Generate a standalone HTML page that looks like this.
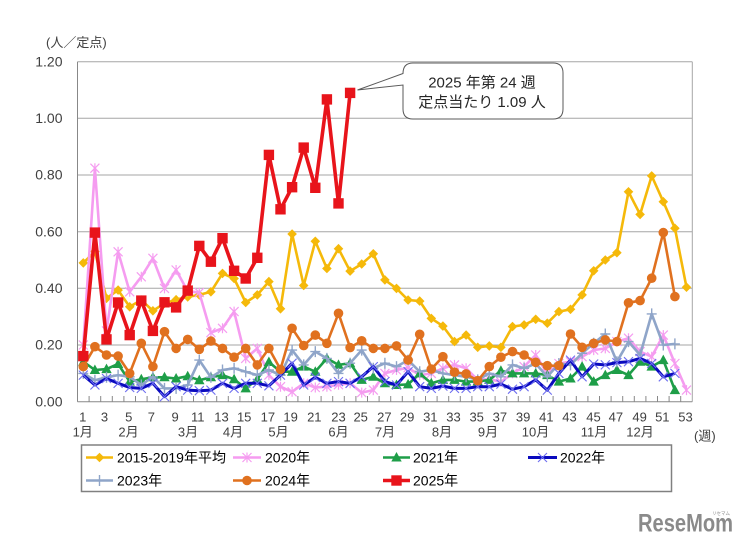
<!DOCTYPE html>
<html>
<head>
<meta charset="utf-8">
<style>
  html,body{margin:0;padding:0;background:#fff;}
  svg{display:block;}
  text{font-family:"Liberation Sans","Noto Sans CJK JP",sans-serif;}
</style>
</head>
<body>
<svg width="748" height="546" viewBox="0 0 748 546" xmlns="http://www.w3.org/2000/svg">
<defs>
  <marker id="mY" markerUnits="userSpaceOnUse" markerWidth="12" markerHeight="12" viewBox="-6 -6 12 12" refX="0" refY="0" orient="0" overflow="visible">
    <path d="M0,-4.8 L4.8,0 L0,4.8 L-4.8,0 Z" fill="#F5B90A"/>
  </marker>
  <marker id="mP" markerUnits="userSpaceOnUse" markerWidth="12" markerHeight="12" viewBox="-6 -6 12 12" refX="0" refY="0" orient="0" overflow="visible">
    <path d="M-4.5,-4.5 L4.5,4.5 M-4.5,4.5 L4.5,-4.5 M0,-5 L0,5" stroke="#F59CF0" stroke-width="1.2" fill="none"/>
  </marker>
  <marker id="mG" markerUnits="userSpaceOnUse" markerWidth="12" markerHeight="12" viewBox="-6 -6 12 12" refX="0" refY="0" orient="0" overflow="visible">
    <path d="M0,-5.5 L5.2,4 L-5.2,4 Z" fill="#1E9E48"/>
  </marker>
  <marker id="mB" markerUnits="userSpaceOnUse" markerWidth="12" markerHeight="12" viewBox="-6 -6 12 12" refX="0" refY="0" orient="0" overflow="visible">
    <path d="M-4.5,-4.5 L4.5,4.5 M-4.5,4.5 L4.5,-4.5" stroke="#6E6EF0" stroke-width="1.1" fill="none"/>
  </marker>
  <marker id="mS" markerUnits="userSpaceOnUse" markerWidth="12" markerHeight="12" viewBox="-6 -6 12 12" refX="0" refY="0" orient="0" overflow="visible">
    <path d="M-5,0 L5,0 M0,-5.5 L0,5.5" stroke="#8FA5C9" stroke-width="1.4" fill="none"/>
  </marker>
  <marker id="mO" markerUnits="userSpaceOnUse" markerWidth="12" markerHeight="12" viewBox="-6 -6 12 12" refX="0" refY="0" orient="0" overflow="visible">
    <circle cx="0" cy="0" r="4.8" fill="#E0711F"/>
  </marker>
  <marker id="mR" markerUnits="userSpaceOnUse" markerWidth="14" markerHeight="14" viewBox="-7 -7 14 14" refX="0" refY="0" orient="0" overflow="visible">
    <rect x="-5.2" y="-5.2" width="10.4" height="10.4" fill="#E8141B"/>
  </marker>
</defs>

<!-- unit label -->
<text x="46" y="47" font-size="13" fill="#404040">(人／定点)</text>

<!-- gridlines -->
<g stroke="#A6A6A6" stroke-width="1">
  <line x1="77.5" y1="61.7" x2="692.3" y2="61.7"/>
  <line x1="77.5" y1="118.3" x2="692.3" y2="118.3"/>
  <line x1="77.5" y1="175" x2="692.3" y2="175"/>
  <line x1="77.5" y1="231.7" x2="692.3" y2="231.7"/>
  <line x1="77.5" y1="288.3" x2="692.3" y2="288.3"/>
  <line x1="77.5" y1="345" x2="692.3" y2="345"/>
  <line x1="692.3" y1="61.7" x2="692.3" y2="401.7"/>
</g>
<g stroke="#888" stroke-width="1">
  <line x1="77.5" y1="61.7" x2="77.5" y2="401.7"/>
  <line x1="77.5" y1="401.7" x2="692.3" y2="401.7"/>
  <path d="M89.1,396V401.7M100.7,396V401.7M112.3,396V401.7M123.9,396V401.7M135.5,396V401.7M147.1,396V401.7M158.7,396V401.7M170.3,396V401.7M181.9,396V401.7M193.5,396V401.7M205.1,396V401.7M216.7,396V401.7M228.3,396V401.7M239.9,396V401.7M251.5,396V401.7M263.1,396V401.7M274.7,396V401.7M286.3,396V401.7M297.9,396V401.7M309.5,396V401.7M321.1,396V401.7M332.7,396V401.7M344.3,396V401.7M355.9,396V401.7M367.5,396V401.7M379.1,396V401.7M390.7,396V401.7M402.3,396V401.7M413.9,396V401.7M425.5,396V401.7M437.1,396V401.7M448.7,396V401.7M460.3,396V401.7M471.9,396V401.7M483.5,396V401.7M495.1,396V401.7M506.7,396V401.7M518.3,396V401.7M529.9,396V401.7M541.5,396V401.7M553.1,396V401.7M564.7,396V401.7M576.3,396V401.7M587.9,396V401.7M599.5,396V401.7M611.1,396V401.7M622.7,396V401.7M634.3,396V401.7M645.9,396V401.7M657.5,396V401.7M669.1,396V401.7M680.7,396V401.7"/>
</g>

<!-- y labels -->
<g font-size="14" fill="#404040" text-anchor="end">
  <text x="62.5" y="66.5">1.20</text>
  <text x="62.5" y="123">1.00</text>
  <text x="62.5" y="179.7">0.80</text>
  <text x="62.5" y="236.4">0.60</text>
  <text x="62.5" y="293">0.40</text>
  <text x="62.5" y="349.7">0.20</text>
  <text x="62.5" y="406.4">0.00</text>
</g>

<!-- x labels -->
<g font-size="13" fill="#404040" text-anchor="middle">
  <text x="82.8" y="421.5">1</text>
  <text x="104.5" y="421.5">3</text>
  <text x="128.7" y="421.5">5</text>
  <text x="151.4" y="421.5">7</text>
  <text x="175.1" y="421.5">9</text>
  <text x="197.8" y="421.5">11</text>
  <text x="221.5" y="421.5">13</text>
  <text x="244.2" y="421.5">15</text>
  <text x="267.9" y="421.5">17</text>
  <text x="290.6" y="421.5">19</text>
  <text x="314.3" y="421.5">21</text>
  <text x="338.5" y="421.5">23</text>
  <text x="360.7" y="421.5">25</text>
  <text x="384.4" y="421.5">27</text>
  <text x="407.1" y="421.5">29</text>
  <text x="430.3" y="421.5">31</text>
  <text x="453.5" y="421.5">33</text>
  <text x="476.7" y="421.5">35</text>
  <text x="499.9" y="421.5">37</text>
  <text x="523.1" y="421.5">39</text>
  <text x="546.3" y="421.5">41</text>
  <text x="569.5" y="421.5">43</text>
  <text x="593.5" y="421.5">45</text>
  <text x="615.9" y="421.5">47</text>
  <text x="639.6" y="421.5">49</text>
  <text x="662.3" y="421.5">51</text>
  <text x="685.5" y="421.5">53</text>
  <text x="82.7" y="436.5">1月</text>
  <text x="128.5" y="436.5">2月</text>
  <text x="188" y="436.5">3月</text>
  <text x="233" y="436.5">4月</text>
  <text x="278.5" y="436.5">5月</text>
  <text x="338.5" y="436.5">6月</text>
  <text x="385" y="436.5">7月</text>
  <text x="442" y="436.5">8月</text>
  <text x="488" y="436.5">9月</text>
  <text x="535.5" y="436.5">10月</text>
  <text x="594" y="436.5">11月</text>
  <text x="640" y="436.5">12月</text>
</g>
<text x="694" y="440.5" font-size="13" fill="#404040">(週)</text>

<!-- series -->
<g fill="none" stroke-linejoin="round">
  <polyline stroke="#F5B90A" stroke-width="2.6" marker-start="url(#mY)" marker-mid="url(#mY)" marker-end="url(#mY)"
   points="83.3,262.9 94.9,251.5 106.5,298.3 118.1,290.1 129.7,306.8 141.3,300.0 152.9,310.8 164.5,303.4 176.1,299.7 187.7,296.9 199.3,294.9 210.9,291.8 222.5,273.4 234.1,278.5 245.7,302.5 257.3,294.9 268.9,281.6 280.5,308.8 292.1,234.0 303.7,285.5 315.3,241.3 326.9,268.5 338.5,248.7 350.1,271.1 361.7,264.0 373.3,253.8 384.9,279.9 396.5,288.4 408.1,300.0 419.7,301.1 431.3,318.4 442.9,326.1 454.5,341.6 466.1,335.1 477.7,347.3 489.3,345.9 500.9,347.3 512.5,326.6 524.1,324.9 535.7,319.3 547.3,323.2 558.9,311.6 570.5,309.3 582.1,294.9 593.7,270.8 605.3,260.0 616.9,252.7 628.5,191.8 640.1,214.4 651.7,175.9 663.3,201.7 674.9,228.3 686.5,287.2"/>
  <polyline stroke="#F59CF0" stroke-width="2.6" marker-start="url(#mP)" marker-mid="url(#mP)" marker-end="url(#mP)"
   points="83.3,345.0 94.9,168.2 106.5,330.9 118.1,251.8 129.7,291.8 141.3,276.8 152.9,258.3 164.5,288.4 176.1,270.0 187.7,291.2 199.3,292.6 210.9,332.6 222.5,328.3 234.1,311.6 245.7,358.4 257.3,348.4 268.9,375.1 280.5,386.7 292.1,391.8 303.7,383.3 315.3,387.5 326.9,386.7 338.5,384.7 350.1,383.3 361.7,392.6 373.3,390.1 384.9,373.4 396.5,370.0 408.1,367.7 419.7,375.1 431.3,373.4 442.9,368.3 454.5,364.9 466.1,368.3 477.7,379.9 489.3,379.0 500.9,381.9 512.5,373.4 524.1,366.6 535.7,355.0 547.3,373.4 558.9,363.5 570.5,361.7 582.1,356.7 593.7,350.1 605.3,348.4 616.9,341.6 628.5,338.2 640.1,351.6 651.7,356.7 663.3,335.1 674.9,363.5 686.5,390.1"/>
  <polyline stroke="#1E9E48" stroke-width="2.6" marker-start="url(#mG)" marker-mid="url(#mG)" marker-end="url(#mG)"
   points="83.3,361.7 94.9,370.0 106.5,369.1 118.1,364.0 129.7,381.6 141.3,379.3 152.9,377.3 164.5,377.3 176.1,378.5 187.7,376.2 199.3,380.2 210.9,377.3 222.5,375.1 234.1,379.3 245.7,388.4 257.3,379.3 268.9,362.0 280.5,371.7 292.1,371.7 303.7,366.6 315.3,371.7 326.9,358.4 338.5,364.9 350.1,363.2 361.7,379.9 373.3,376.8 384.9,383.3 396.5,385.0 408.1,384.4 419.7,373.4 431.3,383.3 442.9,379.9 454.5,379.9 466.1,381.6 477.7,381.6 489.3,379.9 500.9,370.8 512.5,373.4 524.1,373.4 535.7,373.4 547.3,375.1 558.9,381.6 570.5,378.5 582.1,366.6 593.7,381.6 605.3,375.1 616.9,370.0 628.5,375.1 640.1,361.7 651.7,366.6 663.3,360.1 674.9,390.1"/>
  <polyline stroke="#8FA5C9" stroke-width="2.6" marker-start="url(#mS)" marker-mid="url(#mS)" marker-end="url(#mS)"
   points="83.3,373.4 94.9,380.2 106.5,377.3 118.1,375.1 129.7,376.8 141.3,385.0 152.9,376.8 164.5,388.4 176.1,388.4 187.7,385.0 199.3,360.1 210.9,377.3 222.5,370.0 234.1,368.3 245.7,371.7 257.3,375.1 268.9,370.0 280.5,375.1 292.1,350.1 303.7,364.9 315.3,351.6 326.9,358.4 338.5,373.4 350.1,363.2 361.7,350.1 373.3,368.3 384.9,363.2 396.5,366.6 408.1,360.1 419.7,371.7 431.3,370.0 442.9,373.4 454.5,375.1 466.1,376.8 477.7,379.9 489.3,373.4 500.9,376.8 512.5,364.9 524.1,368.3 535.7,363.5 547.3,376.8 558.9,363.5 570.5,364.9 582.1,353.3 593.7,343.3 605.3,334.0 616.9,361.7 628.5,341.6 640.1,355.0 651.7,313.9 663.3,345.0 674.9,343.9"/>
  <polyline stroke="#0A0ABE" stroke-width="3" marker-start="url(#mB)" marker-mid="url(#mB)" marker-end="url(#mB)"
   points="83.3,375.1 94.9,385.0 106.5,378.5 118.1,383.3 129.7,387.5 141.3,388.4 152.9,383.3 164.5,396.6 176.1,386.7 187.7,390.1 199.3,390.7 210.9,390.1 222.5,383.3 234.1,388.4 245.7,383.3 257.3,383.3 268.9,385.8 280.5,375.1 292.1,363.2 303.7,385.0 315.3,377.3 326.9,383.3 338.5,381.6 350.1,383.3 361.7,376.8 373.3,366.6 384.9,381.6 396.5,385.0 408.1,371.7 419.7,386.7 431.3,388.4 442.9,386.1 454.5,388.4 466.1,388.4 477.7,386.7 489.3,386.7 500.9,384.1 512.5,389.2 524.1,386.7 535.7,379.9 547.3,390.1 558.9,373.4 570.5,360.1 582.1,376.8 593.7,364.0 605.3,364.9 616.9,362.6 628.5,361.7 640.1,358.4 651.7,363.5 663.3,376.8 674.9,373.4"/>
  <polyline stroke="#E0711F" stroke-width="2.6" marker-start="url(#mO)" marker-mid="url(#mO)" marker-end="url(#mO)"
   points="83.3,366.6 94.9,346.7 106.5,355.0 118.1,356.1 129.7,373.4 141.3,343.3 152.9,366.6 164.5,331.7 176.1,348.4 187.7,339.4 199.3,349.3 210.9,341.1 222.5,348.4 234.1,357.2 245.7,348.4 257.3,364.9 268.9,348.4 280.5,369.4 292.1,328.3 303.7,345.6 315.3,335.1 326.9,343.3 338.5,313.3 350.1,347.6 361.7,340.8 373.3,348.4 384.9,348.4 396.5,345.9 408.1,360.1 419.7,334.3 431.3,369.1 442.9,356.7 454.5,372.2 466.1,373.9 477.7,380.7 489.3,366.6 500.9,357.2 512.5,351.6 524.1,355.0 535.7,362.3 547.3,365.7 558.9,365.7 570.5,334.0 582.1,347.3 593.7,343.3 605.3,339.9 616.9,341.6 628.5,302.8 640.1,300.6 651.7,278.2 663.3,232.6 674.9,296.6"/>
  <polyline stroke="#E8141B" stroke-width="3.6" marker-start="url(#mR)" marker-mid="url(#mR)" marker-end="url(#mR)"
   points="83.3,356.1 94.9,232.6 106.5,339.4 118.1,302.5 129.7,335.1 141.3,300.6 152.9,330.9 164.5,302.3 176.1,307.4 187.7,290.6 199.3,245.9 210.9,261.7 222.5,238.2 234.1,270.8 245.7,278.5 257.3,257.8 268.9,154.9 280.5,209.3 292.1,187.2 303.7,147.6 315.3,187.8 326.9,99.4 338.5,203.4 350.1,92.9"/>
</g>

<!-- callout -->
<path d="M413,63 H553 Q563,63 563,73 V109 Q563,119 553,119 H413 Q403,119 403,109 V85 L357.5,90 L403,73.5 Q403,63 413,63 Z" fill="#fff" stroke="#595959" stroke-width="1"/>
<g font-size="15" fill="#262626" text-anchor="middle">
  <text x="482" y="87.5">2025 年第 24 週</text>
  <text x="482" y="107">定点当たり 1.09 人</text>
</g>

<!-- legend -->
<rect x="81.5" y="445" width="590" height="46.5" fill="#fff" stroke="#808080" stroke-width="1.5"/>
<g stroke-width="2.6">
  <line x1="86" y1="457.5" x2="113" y2="457.5" stroke="#F5B90A"/>
  <line x1="233" y1="457.5" x2="261" y2="457.5" stroke="#F59CF0"/>
  <line x1="383" y1="457.5" x2="410" y2="457.5" stroke="#1E9E48"/>
  <line x1="528" y1="457.5" x2="557" y2="457.5" stroke="#0A0ABE" stroke-width="3"/>
  <line x1="86" y1="480.5" x2="113" y2="480.5" stroke="#8FA5C9"/>
  <line x1="233" y1="480.5" x2="261" y2="480.5" stroke="#E0711F"/>
  <line x1="383" y1="480.5" x2="410" y2="480.5" stroke="#E8141B" stroke-width="3.6"/>
</g>
<path d="M99.5,452.7 L104.3,457.5 L99.5,462.3 L94.7,457.5 Z" fill="#F5B90A"/>
<path d="M242.5,453 L251.5,462 M242.5,462 L251.5,453 M247,452.5 L247,462.5" stroke="#F59CF0" stroke-width="1.2"/>
<path d="M396.5,452 L401.7,461.5 L391.3,461.5 Z" fill="#1E9E48"/>
<path d="M538,453 L547,462 M538,462 L547,453" stroke="#6E6EF0" stroke-width="1.1"/>
<path d="M94.5,480.5 L104.5,480.5 M99.5,475 L99.5,486" stroke="#8FA5C9" stroke-width="1.4"/>
<circle cx="247" cy="480.5" r="4.8" fill="#E0711F"/>
<rect x="391.3" y="475.3" width="10.4" height="10.4" fill="#E8141B"/>
<g font-size="14" fill="#000">
  <text x="117" y="462.5">2015-2019年平均</text>
  <text x="265" y="462.5">2020年</text>
  <text x="413" y="462.5">2021年</text>
  <text x="560" y="462.5">2022年</text>
  <text x="117" y="485.5">2023年</text>
  <text x="265" y="485.5">2024年</text>
  <text x="413" y="485.5">2025年</text>
</g>

<!-- watermark -->
<text x="638" y="531.5" font-size="25" font-weight="bold" fill="#8A8A8A" textLength="95" lengthAdjust="spacingAndGlyphs">ReseMom</text>
<text x="712" y="515" font-size="4.5" fill="#8A8A8A">リセマム</text>
</svg>
</body>
</html>
